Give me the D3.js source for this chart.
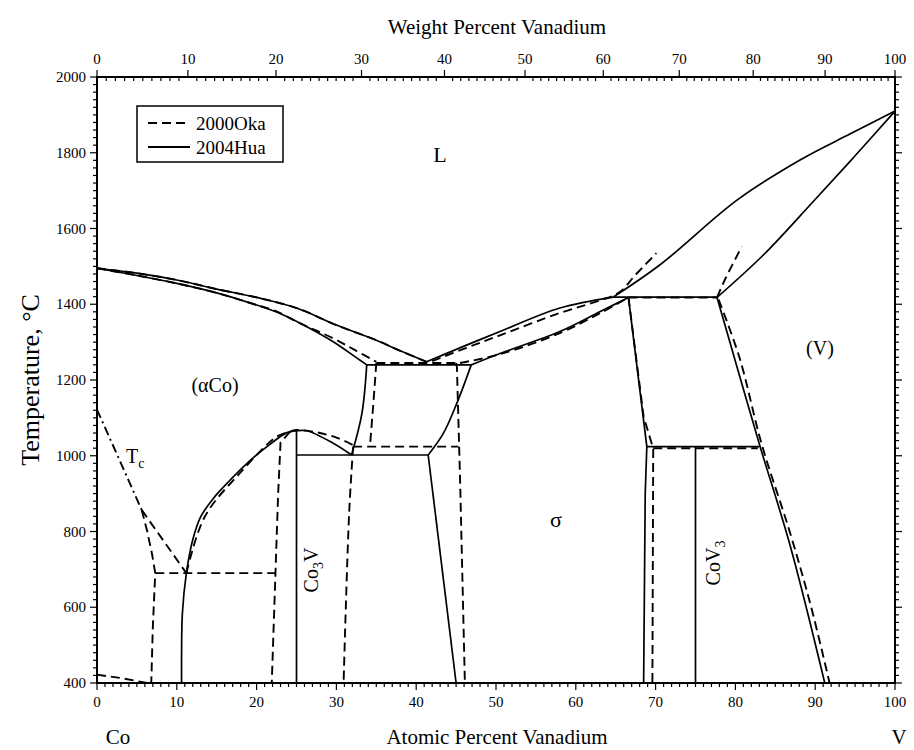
<!DOCTYPE html>
<html>
<head>
<meta charset="utf-8">
<script src="https://cdn.jsdelivr.net/npm/d3@7"></script>
<style>
  body { margin: 0; background: #fff; }
  text { font-family: "Liberation Serif", "Times New Roman", serif; fill: #000; }
</style>
</head>
<body>
<svg id="chart" width="914" height="750"></svg>
<script>
// ---- data (atomic % V, temperature in C) ----
var atTicks = [0, 10, 20, 30, 40, 50, 60, 70, 80, 90, 100];
var wtTicks = [0, 10, 20, 30, 40, 50, 60, 70, 80, 90, 100];
var tempTicks = [400, 600, 800, 1000, 1200, 1400, 1600, 1800, 2000];
var legendNames = ['2000Oka', '2004Hua'];

// 2004Hua (solid)
var liqCo = [[0,1495],[5,1482],[10,1464],[15,1440],[20,1418],[25,1390],[30,1345],[35,1305],[38,1277],[41.3,1248]];
var solCo = [[0,1495],[5,1476],[10,1455],[15,1430],[20,1398],[23,1375],[26,1344],[29.6,1301],[32.5,1259],[33.8,1240]];
var liqSigma = [[41.3,1248],[46.3,1292],[50.5,1328],[58,1390],[64.7,1419]];
var solSigma = [[46.9,1240],[50.5,1270],[58,1328],[63,1380],[66.6,1418]];
var liqV = [[64.7,1419],[70.6,1505],[80.2,1675],[88.1,1781],[94.4,1850],[100,1910]];
var solV = [[77.7,1418],[83.5,1530],[89.7,1670],[95,1792],[100,1910]];
var peritectic = [[64.7,1419],[77.7,1419]];
var sigmaV = [[77.7,1418],[80.4,1220],[83.1,1024],[86.9,760],[91.2,400]];
var sigmaCoV3 = [[66.6,1418],[68.9,1024],[68.7,900],[68.5,400]];
var coV3Top = [[68.9,1024],[83.0,1024]];
var coV3 = [[75,1024],[75,400]];
var co3V = [[25,1066],[25,400]];
var co3VTop = [[25,1002],[41.5,1002]];
var dome = [[10.6,400],[10.6,480],[10.7,584],[11.2,690],[12.0,778],[13.0,839],[14.6,888],[16.7,936],[18.8,980],[21.3,1024],[23.8,1061],[25,1066],[26.3,1066],[29.6,1033],[31.9,1002]];
var aCoSigma = [[33.8,1240],[33.2,1112],[31.9,1002]];
var sigmaLeftUp = [[46.9,1240],[45.1,1139],[43.4,1059],[41.5,1002]];
var sigmaLeftLow = [[41.5,1002],[45.0,400]];
var eutectic = [[33.8,1240],[46.9,1240]];

// 2000Oka (dashed)
var liqCoOka = liqCo;
var solCoOka = [[0,1495],[5,1476],[10,1455],[15,1430],[20,1398],[22.5,1381],[25.4,1350],[29.6,1310],[32.5,1277],[35.0,1248]];
var eutecticOka = [[35.0,1245],[45.0,1245]];
var liqSigmaOka = [[42,1250],[46.3,1285],[50.5,1318],[58,1377],[63,1410],[65.5,1432],[67.5,1478],[70.1,1535]];
var solSigmaOka = [[45.5,1245],[50.5,1268],[58,1324],[63,1376],[66.6,1418]];
var periOka = [[66.6,1418],[77.7,1418]];
var solVOka = [[77.7,1418],[78.8,1470],[80.8,1552]];
var sigmaVOka = [[77.9,1412],[80.5,1260],[83.3,1030],[86.8,800],[89.5,600],[91.8,400]];
var sigmaCoV3Oka = [[66.6,1418],[68.5,1103],[69.5,1033],[69.7,1020],[69.6,400]];
var coV3TopOka = [[69.7,1020],[82.8,1020]];
var aCoSigmaOka = [[35.0,1245],[34.6,1130],[34.2,1024]];
var sigmaLeftOka = [[45.0,1245],[45.1,1235],[45.5,936],[46.1,400]];
var h1025Oka = [[32.1,1024],[45.3,1024]];
var domeOka = [[11.2,690],[13.5,839],[17.9,954],[22.5,1050],[24.2,1064],[25,1068],[27.5,1062],[30,1048],[32.1,1028]];
var co3VRightOka = [[32.1,1024],[31.6,850],[30.9,400]];
var co3VLeftOka = [[24.2,1064],[23.0,1035],[22.7,900],[21.9,400]];
var h690Oka = [[7.3,690],[22.3,690]];
var aCoLeftOka = [[5.6,857],[6.3,800],[6.9,740],[7.3,690],[7.0,550],[6.8,400]];
var tcOka = [[5.6,857],[11.2,690]];
var bottomOka = [[0,422],[3,413],[6.3,400]];
var tcLine = [[0,1122],[5.6,857]];

// ---- layout ----
var svg = d3.select('#chart');
var plotLeft = 97, plotRight = 895, plotTop = 77, plotBottom = 683;
var xScale = d3.scaleLinear().domain([0, 100]).range([plotLeft, plotRight]);
var yScale = d3.scaleLinear().domain([400, 2000]).range([plotBottom, plotTop]);

// weight % -> atomic %
function wt_to_at(w) {
  var a = w / 50.94, b = (100 - w) / 58.93;
  return 100 * a / (a + b);
}

var smooth = d3.line().x(function(d) {return xScale(d[0]);}).y(function(d) {return yScale(d[1]);}).curve(d3.curveCatmullRom.alpha(0.5));
var straight = d3.line().x(function(d) {return xScale(d[0]);}).y(function(d) {return yScale(d[1]);});

var DASH = '9,5', DASHDOT = '9,4,2,4';
var series = [
  [liqCoOka, DASH, smooth], [solCoOka, DASH, smooth], [eutecticOka, DASH, straight],
  [liqSigmaOka, DASH, smooth], [solSigmaOka, DASH, smooth], [periOka, DASH, straight],
  [solVOka, DASH, smooth], [sigmaVOka, DASH, smooth], [sigmaCoV3Oka, DASH, straight],
  [coV3TopOka, DASH, straight], [aCoSigmaOka, DASH, smooth], [sigmaLeftOka, DASH, straight],
  [h1025Oka, DASH, straight], [domeOka, DASH, smooth], [co3VRightOka, DASH, smooth],
  [co3VLeftOka, DASH, straight], [h690Oka, DASH, straight], [aCoLeftOka, DASH, straight],
  [tcOka, DASH, straight], [bottomOka, DASH, straight], [tcLine, DASHDOT, straight],
  [liqCo, null, smooth], [solCo, null, smooth], [liqSigma, null, smooth], [solSigma, null, smooth],
  [liqV, null, smooth], [solV, null, smooth], [peritectic, null, straight], [sigmaV, null, smooth],
  [sigmaCoV3, null, straight], [coV3Top, null, straight], [coV3, null, straight],
  [co3V, null, straight], [co3VTop, null, straight], [dome, null, smooth],
  [aCoSigma, null, smooth], [sigmaLeftUp, null, smooth], [sigmaLeftLow, null, straight],
  [eutectic, null, straight]
];

var g = svg.append('g');
series.forEach(function(s) {
  g.append('path')
    .attr('d', s[2](s[0]))
    .attr('fill', 'none')
    .attr('stroke', '#000')
    .attr('stroke-width', s[1] ? 1.9 : 1.7)
    .attr('stroke-dasharray', s[1]);
});

// ---- frame and ticks ----
svg.append('rect').attr('x', plotLeft).attr('y', plotTop).attr('width', plotRight - plotLeft).attr('height', plotBottom - plotTop)
  .attr('fill', 'none').attr('stroke', '#000').attr('stroke-width', 2);

var ticks = svg.append('g').attr('stroke', '#000').attr('stroke-width', 1.2);
d3.range(0, 101, 1).forEach(function(v) {
  var major = v % 10 == 0;
  var xp = xScale(v);
  ticks.append('line').attr('x1', xp).attr('x2', xp).attr('y1', plotBottom).attr('y2', plotBottom + (major ? 7 : 4));
  var xw = xScale(wt_to_at(v));
  ticks.append('line').attr('x1', xw).attr('x2', xw).attr('y1', major ? plotTop - 7 : plotTop).attr('y2', major ? plotTop : plotTop + 4);
});
d3.range(400, 2001, 20).forEach(function(t) {
  var major = t % 200 == 0;
  var yp = yScale(t);
  ticks.append('line').attr('x1', plotLeft - (major ? 7 : 4)).attr('x2', plotLeft).attr('y1', yp).attr('y2', yp);
  ticks.append('line').attr('x1', plotRight).attr('x2', plotRight + (major ? 7 : 4)).attr('y1', yp).attr('y2', yp);
});

svg.selectAll('text.xt').data(atTicks).enter().append('text')
  .attr('x', function(d) {return xScale(d);}).attr('y', 707)
  .attr('text-anchor', 'middle').attr('font-size', 15).text(function(d) {return d;});
svg.selectAll('text.wt').data(wtTicks).enter().append('text')
  .attr('x', function(d) {return xScale(wt_to_at(d));}).attr('y', 64)
  .attr('text-anchor', 'middle').attr('font-size', 15).text(function(d) {return d;});
svg.selectAll('text.yt').data(tempTicks).enter().append('text')
  .attr('x', 86).attr('y', function(d) {return yScale(d) + 5;})
  .attr('text-anchor', 'end').attr('font-size', 15).text(function(d) {return d;});

// axis titles
svg.append('text').attr('x', 497).attr('y', 34).attr('text-anchor', 'middle').attr('font-size', 21).text('Weight Percent Vanadium');
svg.append('text').attr('x', 497).attr('y', 744).attr('text-anchor', 'middle').attr('font-size', 21).text('Atomic Percent Vanadium');
svg.append('text').attr('x', 118).attr('y', 744).attr('text-anchor', 'middle').attr('font-size', 21).text('Co');
svg.append('text').attr('x', 899).attr('y', 744).attr('text-anchor', 'middle').attr('font-size', 21).text('V');
svg.append('text').attr('transform', 'translate(39,380) rotate(-90)').attr('text-anchor', 'middle').attr('font-size', 26).text('Temperature, °C');

// phase labels
svg.append('text').attr('x', 440).attr('y', 162).attr('text-anchor', 'middle').attr('font-size', 22).text('L');
svg.append('text').attr('x', 215).attr('y', 392).attr('text-anchor', 'middle').attr('font-size', 20).text('(αCo)');
svg.append('text').attr('x', 556).attr('y', 527).attr('text-anchor', 'middle').attr('font-size', 22).text('σ');
svg.append('text').attr('x', 820).attr('y', 355).attr('text-anchor', 'middle').attr('font-size', 20).text('(V)');
var tc = svg.append('text').attr('x', 126).attr('y', 463).attr('font-size', 20);
tc.append('tspan').text('T');
tc.append('tspan').attr('font-size', 14).attr('dy', 5).text('c');
var c3 = svg.append('text').attr('transform', 'translate(318,570) rotate(-90)').attr('text-anchor', 'middle').attr('font-size', 20);
c3.append('tspan').text('Co');
c3.append('tspan').attr('font-size', 14).attr('dy', 5).text('3');
c3.append('tspan').attr('dy', -5).text('V');
var cv = svg.append('text').attr('transform', 'translate(720,563) rotate(-90)').attr('text-anchor', 'middle').attr('font-size', 20);
cv.append('tspan').text('CoV');
cv.append('tspan').attr('font-size', 14).attr('dy', 5).text('3');

// legend
var lg = svg.append('g');
lg.append('rect').attr('x', 137).attr('y', 106).attr('width', 146).attr('height', 56)
  .attr('fill', '#fff').attr('stroke', '#000').attr('stroke-width', 1.5);
legendNames.forEach(function(name, i) {
  var ly = 123 + i * 24;
  lg.append('line').attr('x1', 148).attr('x2', 190).attr('y1', ly).attr('y2', ly)
    .attr('stroke', '#000').attr('stroke-width', 1.8).attr('stroke-dasharray', i == 0 ? '9,5' : null);
  lg.append('text').attr('x', 196).attr('y', ly + 7).attr('font-size', 19).text(name);
});
</script>
</body>
</html>
